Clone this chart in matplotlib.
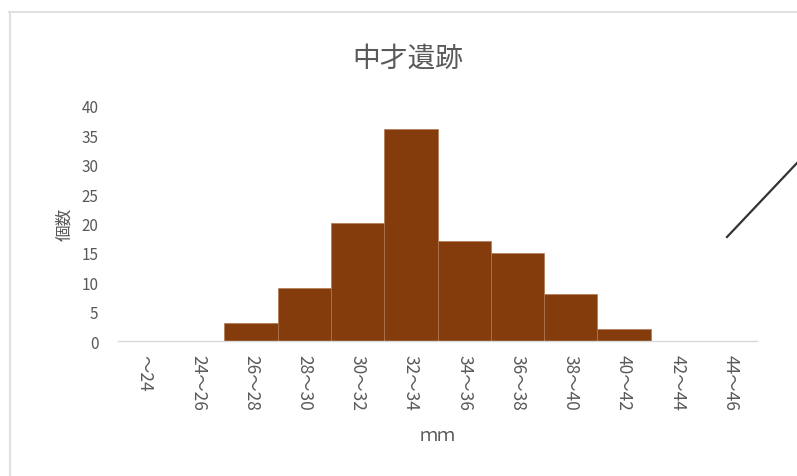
import matplotlib
matplotlib.use("Agg")
import matplotlib.pyplot as plt
from matplotlib.lines import Line2D

plt.rcParams['font.family'] = ['Noto Sans CJK JP', 'DejaVu Sans']

# ---- data ----
categories = ["～24", "24～26", "26～28", "28～30", "30～32", "32～34",
              "34～36", "36～38", "38～40", "40～42", "42～44", "44～46"]
counts = [0, 0, 3, 9, 20, 36, 17, 15, 8, 2, 0, 0]
yticks = [0, 5, 10, 15, 20, 25, 30, 35, 40]

TEXT = "#595959"
BAR = "#843C0C"

fig = plt.figure(figsize=(7.97, 4.77), dpi=100)
ax = fig.add_axes([0.148, 0.283, 0.802, 0.493])

x = range(len(categories))
ax.bar(x, counts, width=1.0, color=BAR, edgecolor="#b07850", linewidth=0.5)

ax.set_xlim(-0.5, len(categories) - 0.5)
ax.set_ylim(0, 40)
ax.set_yticks(yticks)
ax.set_xticks(list(x))
ax.set_xticklabels(categories, rotation=-90, va="top", ha="center")
ax.tick_params(axis="both", length=0, colors=TEXT)
ax.tick_params(axis="y", labelsize=11, pad=14)
ax.tick_params(axis="x", labelsize=12.5, pad=9)

for s in ["top", "right", "left"]:
    ax.spines[s].set_visible(False)
ax.spines["bottom"].set_color("#D9D9D9")
ax.spines["bottom"].set_linewidth(1.0)

# title sits a bit left of the plot centre in the original
ax.set_title("中才遺跡", fontsize=20, color=TEXT, pad=29, x=0.454)
ax.set_xlabel("ｍｍ", fontsize=13, color=TEXT, labelpad=12)
ax.set_ylabel("個数", fontsize=12, color=TEXT, labelpad=6)

# chart frame (light gray) and stray line on the right
W, H = 797, 477
fig.add_artist(Line2D([9 / W, 1], [1 - 13 / H, 1 - 13 / H],
                      transform=fig.transFigure, color="#E0E0E0", lw=1.5))
fig.add_artist(Line2D([10 / W, 10 / W], [0, 1 - 13 / H],
                      transform=fig.transFigure, color="#E0E0E0", lw=1.5))
fig.add_artist(Line2D([727 / W, 797 / W], [1 - 238 / H, 1 - 164 / H],
                      transform=fig.transFigure, color="#333333", lw=1.6))

fig.savefig("out.png", dpi=100, facecolor="white")
